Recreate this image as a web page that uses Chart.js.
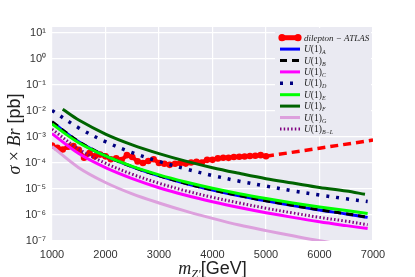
<!DOCTYPE html>
<html>
<head>
<meta charset="utf-8">
<script src="https://cdn.jsdelivr.net/npm/chart.js@4.4.0/dist/chart.umd.min.js"></script>
<style>
  html, body { margin: 0; padding: 0; background: #fff; }
</style>
</head>
<body>
<canvas id="myChart" width="415" height="277"></canvas>
<script>
// ---- data ----
const xTicks = [1000, 2000, 3000, 4000, 5000, 6000, 7000];
const yTicks = [1e-7, 1e-6, 1e-5, 1e-4, 1e-3, 1e-2, 1e-1, 1e0, 1e1];

const massAtlas = [1000,1100,1200,1300,1400,1500,1600,1700,1800,1900,2000,2100,2200,2300,2400,2500,2600,2700,2800,2900,
                   3000,3100,3200,3300,3400,3500,3600,3700,3800,3900,4000,4100,4200,4300,4400,4500,4600,4700,4800,4900,5000];
const atlasObs = [4.7e-4,3.8e-4,3.3e-4,4.2e-4,4.5e-4,3.2e-4,1.6e-4,2.4e-4,1.8e-4,2.1e-4,1.8e-4,1.4e-4,1.5e-4,1.3e-4,2.0e-4,
                  1.7e-4,1.15e-4,1.0e-4,1.2e-4,1.4e-4,1.0e-4,9.3e-5,8.5e-5,9.3e-5,1.0e-4,9.5e-5,1.05e-4,1.12e-4,1.05e-4,1.32e-4,
                  1.32e-4,1.5e-4,1.6e-4,1.58e-4,1.7e-4,1.74e-4,1.78e-4,1.86e-4,1.9e-4,2.0e-4,1.82e-4];
const massProj = [5000, 6000, 7000];
const atlasProj = [1.82e-4, 3.7e-4, 7.6e-4];

const massGrid = [1000,1500,2000,2500,3000,3500,4000,4500,5000,5500,6000,6500,6900];
const massF = [1200,1500,2000,2500,3000,3500,4000,4500,5000,5500,6000,6500,6850];
const u1A = [3.8e-3,6.5e-4,1.86e-4,7.1e-5,3.2e-5,1.62e-5,9.1e-6,5.5e-6,3.5e-6,2.3e-6,1.55e-6,1.1e-6,8.1e-7];
const u1B = [3.9e-3,6.6e-4,1.9e-4,7.2e-5,3.25e-5,1.65e-5,9.2e-6,5.6e-6,3.55e-6,2.35e-6,1.58e-6,1.12e-6,8.2e-7];
const u1C = [1.35e-3,2.3e-4,6.6e-5,2.5e-5,1.12e-5,5.75e-6,3.24e-6,1.95e-6,1.23e-6,8.1e-7,5.5e-7,3.9e-7,3.0e-7];
const u1D = [1.05e-2,2.24e-3,6.6e-4,2.5e-4,1.15e-4,5.9e-5,3.3e-5,2.0e-5,1.29e-5,8.5e-6,5.9e-6,4.2e-6,3.3e-6];
const u1E = [3.16e-3,6.0e-4,1.86e-4,7.4e-5,3.5e-5,1.86e-5,1.07e-5,6.6e-6,4.3e-6,2.9e-6,2.04e-6,1.48e-6,1.15e-6];
const u1F = [1.17e-2,4.5e-3,1.3e-3,5.0e-4,2.3e-4,1.18e-4,6.6e-5,4.0e-5,2.5e-5,1.7e-5,1.15e-5,8.3e-6,6.3e-6];
const u1G = [4.3e-4,6.6e-5,1.78e-5,6.5e-6,2.9e-6,1.41e-6,7.4e-7,4.1e-7,2.5e-7,1.58e-7,1.02e-7,7.1e-8,5.2e-8];
const u1BL = [2.0e-3,3.4e-4,9.8e-5,3.7e-5,1.66e-5,8.5e-6,4.8e-6,2.9e-6,1.82e-6,1.2e-6,8.1e-7,5.8e-7,4.2e-7];

const legendLabels = ['dilepton \u2212 ATLAS', 'U(1)_A', 'U(1)_B', 'U(1)_C', 'U(1)_D', 'U(1)_E', 'U(1)_F', 'U(1)_G', 'U(1)_B\u2212L'];

const pts = (xs, ys) => xs.map((x, i) => ({x: x, y: ys[i]}));

const BG = '#EAEAF2';
const SERIF = '"Liberation Serif", "DejaVu Serif", serif';
const SANS = '"Liberation Sans", Arial, sans-serif';
const sup = {'-': '\u207B', '0': '\u2070', '1': '\u00B9', '2': '\u00B2', '3': '\u00B3', '4': '\u2074',
             '5': '\u2075', '6': '\u2076', '7': '\u2077', '8': '\u2078', '9': '\u2079'};

function line(label, data, color, width, dash, order){
  return {label: label, data: data, borderColor: color, backgroundColor: color, borderWidth: width,
          borderDash: dash || [], pointRadius: 0, fill: false, tension: 0.35, order: order};
}

const datasets = [
  {label: legendLabels[0], data: pts(massAtlas, atlasObs), borderColor: '#ff0000', backgroundColor: '#ff0000',
   borderWidth: 4, pointRadius: 3.3, pointBorderWidth: 0, pointBackgroundColor: '#ff0000', fill: false, order: 9},
  line(legendLabels[1], pts(massGrid, u1A), '#0000ff', 3, null, 8),
  line(legendLabels[2], pts(massGrid, u1B), '#000000', 3, [7, 5], 7),
  line(legendLabels[3], pts(massGrid, u1C), '#ff00ff', 3, null, 6),
  line(legendLabels[4], pts(massGrid, u1D), '#000080', 3.5, [3, 7], 5),
  line(legendLabels[5], pts(massGrid, u1E), '#00ff00', 3, null, 4),
  line(legendLabels[6], pts(massF, u1F), '#006400', 3, null, 3),
  line(legendLabels[7], pts(massGrid, u1G), '#dda0dd', 3, null, 2),
  line(legendLabels[8], pts(massGrid, u1BL), '#800080', 3, [1.5, 2.2], 1),
  // projected limit, no legend entry
  {label: '', data: pts(massProj, atlasProj), borderColor: '#ff0000', borderWidth: 3.5, borderDash: [8, 5],
   pointRadius: 0, fill: false, order: 10}
];

// draws text pieces one after another: [text, font, dy]
function drawRich(ctx, x, y, pieces){
  pieces.forEach(p => {
    ctx.font = p[1];
    ctx.fillText(p[0], x, y + (p[2] || 0));
    x += ctx.measureText(p[0]).width;
  });
  return x;
}
function richWidth(ctx, pieces){
  let w = 0;
  pieces.forEach(p => { ctx.font = p[1]; w += ctx.measureText(p[0]).width; });
  return w;
}

const background = {
  id: 'background',
  beforeDraw(chart){
    const a = chart.chartArea, ctx = chart.ctx;
    ctx.save();
    ctx.fillStyle = '#fff';
    ctx.fillRect(0, 0, chart.width, chart.height);
    ctx.fillStyle = BG;
    ctx.fillRect(a.left, a.top, a.right - a.left, a.bottom - a.top);
    ctx.restore();
  }
};

const legendBox = {
  id: 'legendBox',
  afterDraw(chart){
    const ctx = chart.ctx;
    ctx.save();
    ctx.fillStyle = BG;
    ctx.fillRect(275, 28, 96, 108);
    ctx.textBaseline = 'alphabetic';
    ctx.fillStyle = '#222';
    for (let i = 0; i < 9; i++){
      const ds = chart.data.datasets[i];
      const y = 37.7 + i * 11.4;
      ctx.beginPath();
      ctx.strokeStyle = ds.borderColor;
      ctx.lineWidth = i === 0 ? 5 : ds.borderWidth;
      ctx.setLineDash(ds.borderDash || []);
      ctx.moveTo(280, y);
      ctx.lineTo(300, y);
      ctx.stroke();
      ctx.setLineDash([]);
      if (i === 0){
        ctx.fillStyle = '#ff0000';
        [282, 298].forEach(cx => { ctx.beginPath(); ctx.arc(cx, y, 3.6, 0, Math.PI * 2); ctx.fill(); });
        ctx.fillStyle = '#222';
        drawRich(ctx, 304, y + 3, [['dilepton \u2212 ATLAS', 'italic 9px ' + SERIF]]);
      } else {
        const sub = legendLabels[i].split('_')[1];
        drawRich(ctx, 304, y + 3, [['U', 'italic 9.5px ' + SERIF], ['(1)', '9.5px ' + SERIF], [sub, 'italic 6px ' + SERIF, 2]]);
      }
    }
    ctx.restore();
  }
};

const axisTitles = {
  id: 'axisTitles',
  afterDraw(chart){
    const ctx = chart.ctx, a = chart.chartArea;
    ctx.save();
    ctx.fillStyle = '#222';
    ctx.textBaseline = 'alphabetic';
    const xt = [['m', 'italic 18px ' + SERIF], ['Z\u2032', 'italic 12px ' + SERIF, 4], ['[GeV]', '18px ' + SANS]];
    drawRich(ctx, (a.left + a.right) / 2 - richWidth(ctx, xt) / 2, 274, xt);
    const yt = [['\u03C3', 'italic 18px ' + SERIF], [' \u00D7 ', '18px ' + SERIF], ['Br', 'italic 18px ' + SERIF], [' [pb]', '18px ' + SANS]];
    ctx.translate(20, (a.top + a.bottom) / 2);
    ctx.rotate(-Math.PI / 2);
    drawRich(ctx, -richWidth(ctx, yt) / 2, 0, yt);
    ctx.restore();
  }
};

const chart = new Chart('myChart', {
  type: 'line',
  data: {datasets: datasets},
  plugins: [background, legendBox, axisTitles],
  options: {
    responsive: false,
    animation: false,
    devicePixelRatio: 1,
    layout: {padding: {left: 0, top: 27, right: 42, bottom: 0}},
    plugins: {legend: {display: false}, tooltip: {enabled: false}},
    scales: {
      x: {
        type: 'linear', min: 1000, max: 7000,
        afterFit: s => { s.height = 36; },
        afterBuildTicks: s => { s.ticks = xTicks.map(v => ({value: v})); },
        grid: {color: '#fff', lineWidth: 1.2, drawTicks: false},
        border: {display: false},
        ticks: {padding: 7, color: '#333', font: {family: SANS, size: 11}, callback: v => String(v)}
      },
      y: {
        type: 'logarithmic', min: 1e-7, max: 17,
        afterFit: s => { s.width = 52; },
        afterBuildTicks: s => { s.ticks = yTicks.map(v => ({value: v})); },
        grid: {color: '#fff', lineWidth: 1.2, drawTicks: false},
        border: {display: false},
        ticks: {
          padding: 6, color: '#333', font: {family: SANS, size: 11},
          callback: v => '10' + String(Math.round(Math.log10(v))).split('').map(c => sup[c]).join('')
        }
      }
    }
  }
});
</script>
</body>
</html>
